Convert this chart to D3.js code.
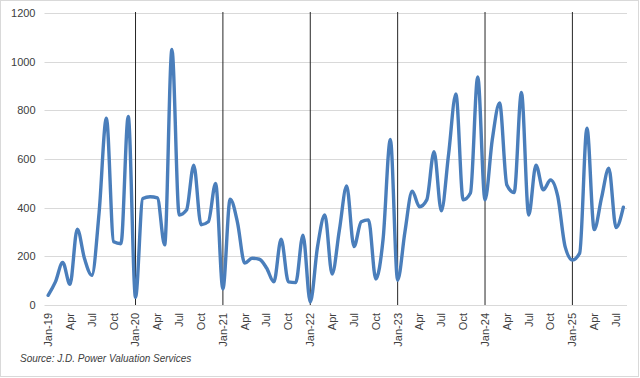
<!DOCTYPE html>
<html lang="en">
<head>
<meta charset="UTF-8">
<title>Monthly series</title>
<script src="https://d3js.org/d3.v7.min.js"></script>
<style>
    body { margin: 0; background: white; }
    svg { display: block; }
    .grid line { stroke: #d9d9d9; stroke-width: 1; }
    .axis text { font-family: 'Liberation Sans', Arial, sans-serif; font-size: 11px; fill: #404040; }
    .source { font-family: 'Liberation Sans', Arial, sans-serif; font-size: 10px; font-style: italic; fill: #404040; }
</style>
</head>
<body>
<svg width="640" height="378"></svg>
<script>
    // monthly categories Jan-19 .. Aug-25
    const years = ['19', '20', '21', '22', '23', '24', '25'];
    const monthNames = ['Jan', 'Feb', 'Mar', 'Apr', 'May', 'Jun', 'Jul', 'Aug', 'Sep', 'Oct', 'Nov', 'Dec'];
    const months = [];
    years.forEach(y => monthNames.forEach(m => months.push(m + '-' + y)));
    months.length = 80;

    const values = [
        40, 95, 175, 85, 312, 190, 122, 380, 768, 260, 252, 775,
        32, 438, 445, 440, 247, 1050, 370, 390, 575, 330, 342, 500,
        66, 435, 340, 172, 192, 188, 152, 95, 270, 95, 92, 287,
        12, 240, 370, 127, 308, 489, 240, 342, 350, 107, 270, 680,
        102, 300, 468, 404, 432, 630, 387, 620, 867, 432, 460, 937,
        432, 680, 830, 493, 462, 873, 370, 575, 473, 514, 445, 240,
        185, 213, 727, 310, 440, 562, 318, 402
    ];

    const yTicks = [0, 200, 400, 600, 800, 1000, 1200];
    const yearMarks = ['Jan-20', 'Jan-21', 'Jan-22', 'Jan-23', 'Jan-24', 'Jan-25'];
    const tickLabel = m => m.startsWith('Jan') ? m : m.slice(0, 3);

    const svg = d3.select('svg');
    const margin = { left: 44.5, right: 13, top: 13, bottom: 73 };
    const width = 640, height = 378;

    // chart border
    svg.append('rect')
        .attr('x', 0.5).attr('y', 0.5)
        .attr('width', width - 2).attr('height', height - 2)
        .attr('fill', 'white').attr('stroke', '#d9d9d9');

    const x = d3.scaleBand()
        .domain(months)
        .range([margin.left, width - margin.right]);

    const y = d3.scaleLinear()
        .domain([0, 1200])
        .range([height - margin.bottom, margin.top]);

    const cx = m => x(m) + x.bandwidth() / 2;

    // horizontal gridlines
    svg.append('g').attr('class', 'grid')
        .selectAll('line')
        .data(yTicks)
        .join('line')
        .attr('x1', margin.left).attr('x2', width - margin.right)
        .attr('y1', d => Math.round(y(d)) + 0.5).attr('y2', d => Math.round(y(d)) + 0.5);

    // y axis labels
    const yAxis = svg.append('g').attr('class', 'axis')
        .attr('transform', `translate(${margin.left - 9},0)`)
        .call(d3.axisLeft(y).tickValues(yTicks).tickFormat(d3.format('d')).tickSize(0).tickPadding(0));
    yAxis.select('.domain').remove();

    // x axis labels, every third month, rotated
    const xAxis = svg.append('g').attr('class', 'axis')
        .attr('transform', `translate(0,${height - margin.bottom})`)
        .call(d3.axisBottom(x)
            .tickValues(months.filter((m, i) => i % 3 === 0))
            .tickFormat(tickLabel)
            .tickSize(0));
    xAxis.select('.domain').remove();
    xAxis.selectAll('text')
        .attr('transform', 'rotate(-90)')
        .attr('text-anchor', 'end')
        .attr('dy', '0.35em')
        .attr('x', -8)
        .attr('y', 0);

    // year separators
    svg.append('g')
        .selectAll('line')
        .data(yearMarks)
        .join('line')
        .attr('x1', d => cx(d)).attr('x2', d => cx(d))
        .attr('y1', y(1200) - 1).attr('y2', y(0))
        .attr('stroke', '#262626')
        .attr('stroke-width', 1);

    // smoothed line
    const line = d3.line()
        .x((d, i) => cx(months[i]))
        .y(d => y(d))
        .curve(d3.curveMonotoneX);

    svg.append('path')
        .datum(values)
        .attr('d', line)
        .attr('fill', 'none')
        .attr('stroke', '#4a7ebb')
        .attr('stroke-width', 3.4)
        .attr('stroke-linejoin', 'round')
        .attr('stroke-linecap', 'round');

    svg.append('text')
        .attr('class', 'source')
        .attr('x', 20)
        .attr('y', 362)
        .text('Source: J.D. Power Valuation Services');
</script>
</body>
</html>
